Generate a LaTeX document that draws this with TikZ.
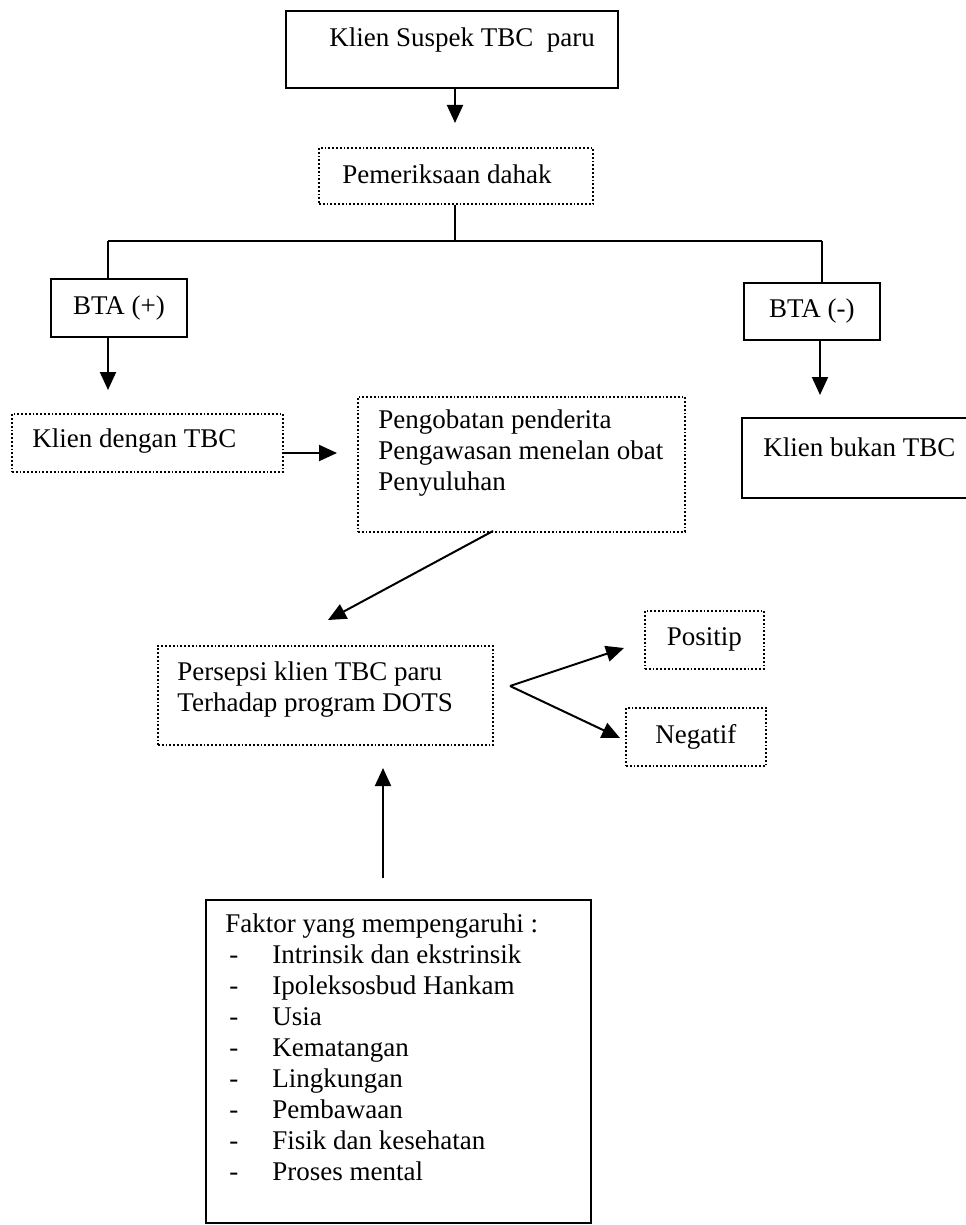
\documentclass[tikz,border=0pt]{standalone}
\usepackage{fontspec}
\setmainfont{Liberation Serif}
\usetikzlibrary{arrows.meta,calc}

\tikzset{
  solidbox/.style={draw, line width=0.9pt, inner sep=0pt, anchor=north west},
  dotbox/.style={draw, densely dotted, line width=0.9pt, inner sep=0pt, anchor=north west},
  txt/.style={inner sep=0pt, anchor=west, align=left},
  arr/.style={line width=1pt, -{Triangle[length=9pt,width=8pt]}},
  link/.style={line width=0.7pt},
  trunk/.style={line width=1.3pt}
}
\newcommand{\fitem}[1]{\hspace{2pt}\makebox[21.5pt][l]{-}#1}

\begin{document}
\begin{tikzpicture}[x=0.5pt, y=-0.5pt, font=\fontsize{13.5}{15.5}\selectfont]
  \useasboundingbox (0,0) rectangle (965,1225);

  % boxes
  \node[solidbox, minimum width=166pt, minimum height=38.5pt] (suspek) at (285,10) {};
  \node[txt] (suspek-t) at (329,40) {Klien Suspek TBC\ \ paru};

  \node[dotbox, minimum width=137pt, minimum height=28pt] (periksa) at (318,147) {};
  \node[txt] (periksa-t) at (342,174) {Pemeriksaan dahak};

  \node[solidbox, minimum width=68pt, minimum height=29pt] (btapos) at (50,278) {BTA (+)};
  \node[solidbox, minimum width=68pt, minimum height=28.5pt] (btaneg) at (743,282) {BTA (-)};

  \node[dotbox, minimum width=135.5pt, minimum height=29pt] (tbc) at (11,413) {};
  \node[txt] (tbc-t) at (32,441) {Klien dengan TBC};

  \node[dotbox, minimum width=163.5pt, minimum height=67.5pt] (obat) at (357,396) {};
  \node[txt] (obat-t) at (378,453) {Pengobatan penderita\\Pengawasan menelan obat\\Penyuluhan};

  \node[solidbox, minimum width=115pt, minimum height=40pt] (bukan) at (741,417) {};
  \node[txt] (bukan-t) at (763,447) {Klien bukan TBC};

  \node[dotbox, minimum width=167.5pt, minimum height=49.5pt] (persepsi) at (157,645) {};
  \node[txt] (persepsi-t) at (177,690) {Persepsi klien TBC paru\\Terhadap program DOTS};

  \node[dotbox, minimum width=59.5pt, minimum height=29pt] (positip) at (644,610) {Positip};
  \node[dotbox, minimum width=70pt, minimum height=29pt] (negatif) at (625,707) {Negatif};

  \node[solidbox, minimum width=192.5pt, minimum height=161.5pt] (faktor) at (205,899) {};
  \node[txt] (faktor-t) at (225,1047) {Faktor yang mempengaruhi :\\
    \fitem{Intrinsik dan ekstrinsik}\\
    \fitem{Ipoleksosbud Hankam}\\
    \fitem{Usia}\\
    \fitem{Kematangan}\\
    \fitem{Lingkungan}\\
    \fitem{Pembawaan}\\
    \fitem{Fisik dan kesehatan}\\
    \fitem{Proses mental}};

  % free ends of the connectors
  \coordinate (t-periksa) at (455,123);
  \coordinate (split) at (455,241);
  \coordinate (split-l) at (108,241);
  \coordinate (split-r) at (822,241);
  \coordinate (t-tbc) at (108,390);
  \coordinate (t-bukan) at (820,395);
  \coordinate (t-obat) at (337,453);
  \coordinate (s-persepsi) at (493,531);
  \coordinate (t-persepsi) at (328,620);
  \coordinate (fork) at (510,686);
  \coordinate (t-positip) at (624,648);
  \coordinate (t-negatif) at (620,738);
  \coordinate (s-faktor) at (383,878);
  \coordinate (t-faktor) at (383,768);

  % connectors
  \draw[arr] (suspek.south -| t-periksa) -- (t-periksa);
  \draw[link] (periksa.south -| split) -- (split);
  \draw[trunk] (split-l) -- (split-r);
  \draw[link] (split-l) -- (btapos.north -| split-l);
  \draw[link] (split-r) -- (btaneg.north -| split-r);
  \draw[arr] (btapos.south -| t-tbc) -- (t-tbc);
  \draw[arr] (btaneg.south -| t-bukan) -- (t-bukan);
  \draw[arr] (tbc.east |- t-obat) -- (t-obat);
  \draw[arr] (s-persepsi) -- (t-persepsi);
  \draw[arr] (fork) -- (t-positip);
  \draw[arr] (fork) -- (t-negatif);
  \draw[arr] (s-faktor) -- (t-faktor);
\end{tikzpicture}
\end{document}
